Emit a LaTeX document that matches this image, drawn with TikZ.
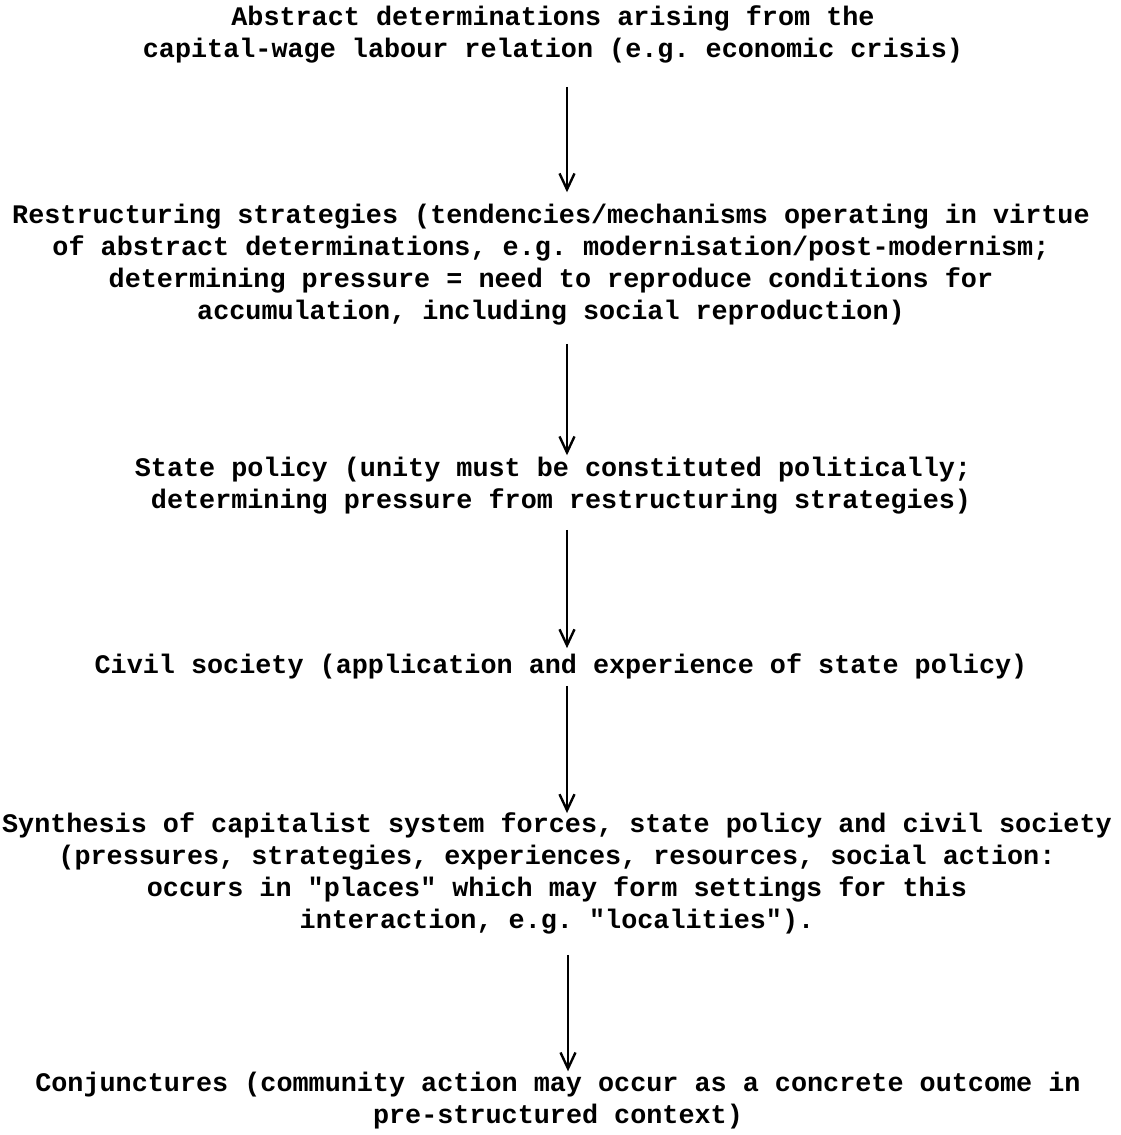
\documentclass[tikz,border=0pt]{standalone}
\usepackage{fontspec}
\setmonofont{Liberation Mono}
\usetikzlibrary{arrows.meta}
\begin{document}
\begin{tikzpicture}[x=1pt,y=1pt,
  txt/.style={align=center,inner sep=0pt,font=\ttfamily\bfseries\fontsize{26.8}{32}\selectfont},
  arr/.style={line width=2.6pt,-{Straight Barb[length=16pt,width=15pt,line width=2.4pt]}}]
\useasboundingbox[fill=white] (0,0) rectangle (1120,-1135);
\node[txt] (n1) at (553,-34) {Abstract determinations arising from the\\capital-wage labour relation (e.g. economic crisis)};
\node[txt] (n2) at (551,-265) {Restructuring strategies (tendencies/mechanisms operating in virtue\\of abstract determinations, e.g. modernisation/post-modernism;\\determining pressure = need to reproduce conditions for\\accumulation, including social reproduction)};
\node[txt] (n3) at (553,-486) {State policy (unity must be constituted politically;\\\ determining pressure from restructuring strategies)};
\node[txt] (n4) at (561,-666) {Civil society (application and experience of state policy)};
\node[txt] (n5) at (557,-873) {Synthesis of capitalist system forces, state policy and civil society\\(pressures, strategies, experiences, resources, social action:\\occurs in "places" which may form settings for this\\interaction, e.g. "localities").};
\node[txt] (n6) at (558,-1101) {Conjunctures (community action may occur as a concrete outcome in\\pre-structured context)};
\draw[arr] ([xshift=14,yshift=-24]n1.south) -- ([xshift=16,yshift=12]n2.north);
\draw[arr] ([xshift=16,yshift=-18]n2.south) -- ([xshift=14,yshift=2]n3.north);
\draw[arr] ([xshift=14,yshift=-15]n3.south) -- ([xshift=6,yshift=5]n4.north);
\draw[arr] ([xshift=6,yshift=-7]n4.south) -- ([xshift=10,yshift=-1]n5.north);
\draw[arr] ([xshift=11,yshift=-21]n5.south) -- ([xshift=10,yshift=1]n6.north);
\end{tikzpicture}
\end{document}
